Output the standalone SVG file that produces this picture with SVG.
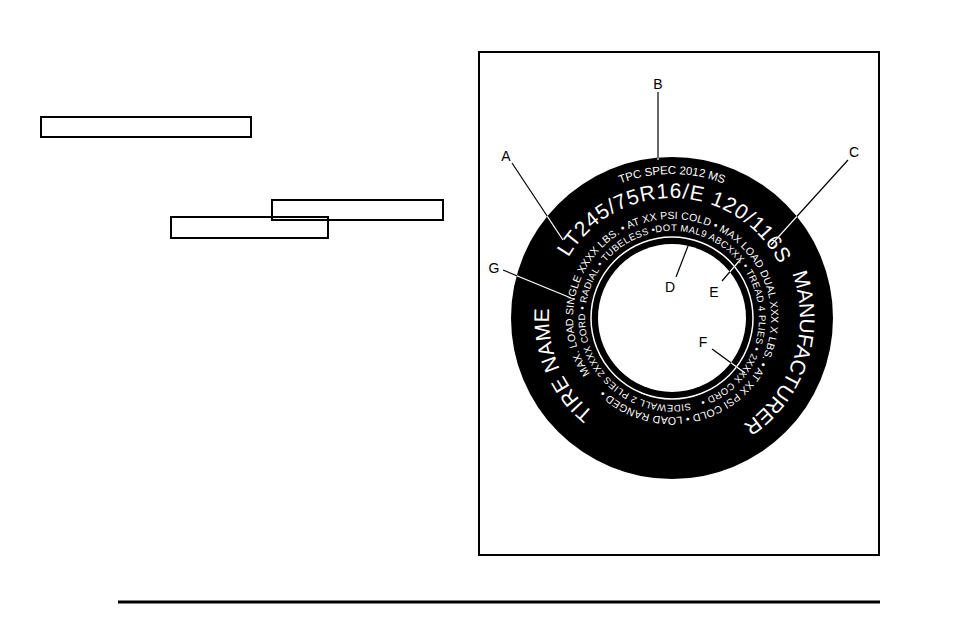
<svg xmlns="http://www.w3.org/2000/svg" xmlns:xlink="http://www.w3.org/1999/xlink" width="954" height="636" viewBox="0 0 954 636">
<style>
.box{fill:none;stroke:#000;stroke-width:2}
.t{font-family:"Liberation Sans",Arial,sans-serif;fill:#fff}
.lbl{font-family:"Liberation Sans",Arial,sans-serif;font-size:14px;fill:#000;text-anchor:middle}
.ld{stroke:#000;stroke-width:1.2;fill:none}
.lw{stroke:#fff;stroke-width:1.2;fill:none}
</style>
<defs>
<path id="r144" d="M672,462 A144,144 0 1 1 672,174 A144,144 0 1 1 672,462"/>
<path id="r120" d="M672,438 A120,120 0 1 1 672,198 A120,120 0 1 1 672,438"/>
<path id="r123" d="M672,441 A123,123 0 1 1 672,195 A123,123 0 1 1 672,441"/>
<path id="r128" d="M672,446 A128,128 0 1 1 672,190 A128,128 0 1 1 672,446"/>
<path id="r99" d="M672,417 A99,99 0 1 1 672,219 A99,99 0 1 1 672,417 A99,99 0 1 1 672,219 A99,99 0 1 1 672,417"/>
<path id="r87" d="M672,405 A87,87 0 1 1 672,231 A87,87 0 1 1 672,405 A87,87 0 1 1 672,231 A87,87 0 1 1 672,405"/>
<clipPath id="ring"><path clip-rule="evenodd" d="M511,318 A161,161 0 1 1 833,318 A161,161 0 1 1 511,318 Z M598,318 A74,74 0 1 0 746,318 A74,74 0 1 0 598,318 Z"/></clipPath>
</defs>
<rect x="479" y="52" width="400" height="503" class="box"/>
<line x1="118" y1="602" x2="880" y2="602" stroke="#000" stroke-width="3"/>
<g id="boxes">
<rect x="41" y="117" width="210" height="20" class="box"/>
<rect x="272" y="200" width="171" height="20" class="box"/>
<rect x="171" y="217" width="157" height="21" class="box"/>
</g>
<g id="tire">
<circle cx="672" cy="318" r="161" fill="#000"/>
<circle cx="672" cy="318" r="81" fill="none" stroke="#fff" stroke-width="1.5"/>
<circle cx="672" cy="318" r="74" fill="#fff"/>
<text class="t" font-size="11.5"><textPath xlink:href="#r144" startOffset="50%" text-anchor="middle" textLength="106">TPC  SPEC 2012 MS</textPath></text>
<text class="t" font-size="21"><textPath xlink:href="#r120" startOffset="50.5%" text-anchor="middle" textLength="258">LT245/75R16/E 120/116S</textPath></text>
<text class="t" font-size="21"><textPath xlink:href="#r123" startOffset="18.6%" text-anchor="middle" textLength="118">TIRE NAME</textPath></text>
<text class="t" font-size="21"><textPath xlink:href="#r128" startOffset="80%" text-anchor="middle" textLength="172">MANUFACTURER</textPath></text>
<text class="t" font-size="10.5"><textPath xlink:href="#r99" startOffset="7.75%" textLength="600">MAX. LOAD SINGLE XXXX LBS. • AT XX PSI COLD • MAX LOAD DUAL XXX X LBS. • AT XX PSI COLD • LOAD RANGED •</textPath></text>
<text class="t" font-size="9.5" transform="rotate(-12 672 318)"><textPath xlink:href="#r87" startOffset="0" textLength="535">SIDEWALL 2 PLIES 2XXXX CORD • RADIAL • TUBELESS •DOT MAL9 ABCXXX • TREAD 4 PLIES • 2XXXX CORD •</textPath></text>
</g>
<g id="connectors">
<g class="ld">
<line x1="512" y1="163" x2="563" y2="240"/>
<line x1="658" y1="92" x2="658" y2="160"/>
<line x1="848" y1="160" x2="771" y2="245"/>
<line x1="503" y1="270" x2="571" y2="298"/>
<line x1="676" y1="277" x2="688" y2="246"/>
<line x1="722" y1="281" x2="740" y2="260"/>
<line x1="712" y1="349" x2="745" y2="373"/>
</g>
<g class="lw" clip-path="url(#ring)">
<line x1="512" y1="163" x2="563" y2="240"/>
<line x1="658" y1="92" x2="658" y2="160"/>
<line x1="848" y1="160" x2="771" y2="245"/>
<line x1="503" y1="270" x2="571" y2="298"/>
<line x1="722" y1="281" x2="740" y2="260"/>
<line x1="712" y1="349" x2="745" y2="373"/>
</g>
</g>
<g id="labels">
<text x="506" y="161" class="lbl">A</text>
<text x="658" y="89" class="lbl">B</text>
<text x="854" y="157" class="lbl">C</text>
<text x="670" y="292" class="lbl">D</text>
<text x="714" y="297" class="lbl">E</text>
<text x="703" y="347" class="lbl">F</text>
<text x="494" y="273" class="lbl">G</text>
</g>
</svg>
